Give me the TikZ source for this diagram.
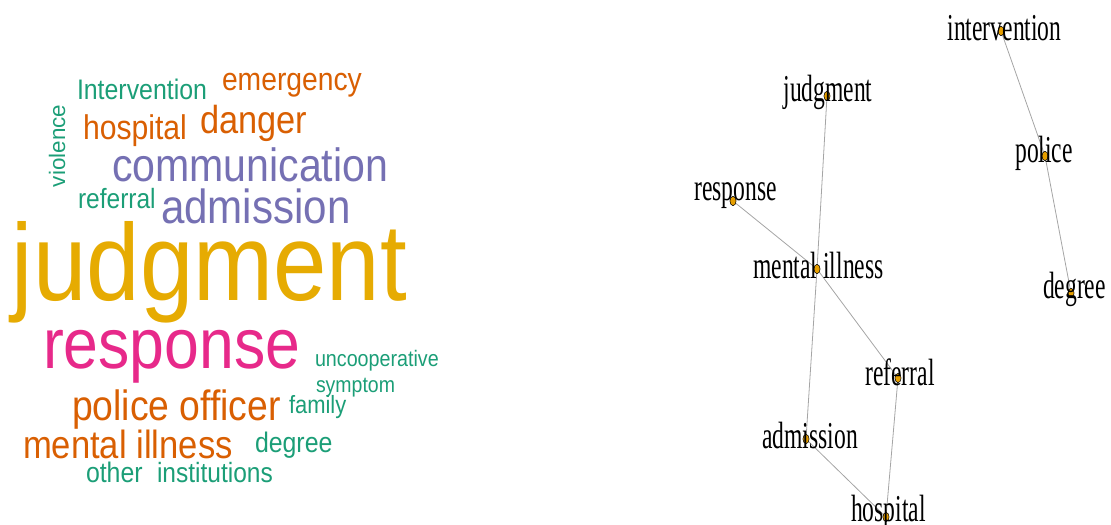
\documentclass[tikz,border=0pt]{standalone}
\usepackage{fontspec}
\usepackage{tikz}
\usetikzlibrary{shapes}

\newfontfamily\cloudfont[FakeStretch=0.88]{Liberation Sans}
\newfontfamily\cloudfontup{Liberation Sans}
\newfontfamily\netfont[FakeStretch=0.62]{Liberation Serif}
\newcommand\fsz[1]{\fontsize{#1}{#1}\selectfont}

\definecolor{dkgreen}{RGB}{27,158,119}
\definecolor{dkorange}{RGB}{217,95,2}
\definecolor{dkpurple}{RGB}{117,112,179}
\definecolor{dkpink}{RGB}{231,41,138}
\definecolor{dkyellow}{RGB}{230,171,2}
\definecolor{vtxfill}{RGB}{230,159,0}
\definecolor{edgegray}{RGB}{165,165,165}

\tikzset{
  cloudword/.style={anchor=base west, inner sep=0pt, outer sep=0pt},
  vertex/.style={ellipse, draw=black, line width=0.4pt, fill=vtxfill, inner sep=0pt, minimum width=4.6pt, minimum height=7pt},
  netlabel/.style={anchor=base, inner sep=0pt, text=black, font=\netfont\fsz{28.5}},
  edge/.style={draw=edgegray, line width=0.6pt}
}

\begin{document}
\begin{tikzpicture}[x=0.75pt,y=0.75pt,yscale=-1,xscale=1]
    %set diagram to 1111 x 525
    \useasboundingbox (0,0) rectangle (1111,525);

    % Word cloud
    \node [cloudword, text=dkyellow, font=\cloudfont\fsz{81.8}] (wJudgment) at (12,300) {judgment};
    \node [cloudword, text=dkpink, font=\cloudfont\fsz{53.3}] (wResponse) at (43,368) {response};
    \node [cloudword, text=dkpurple, font=\cloudfont\fsz{35}] (wCommunication) at (112,181) {communication};
    \node [cloudword, text=dkpurple, font=\cloudfont\fsz{35.9}] (wAdmission) at (161,223) {admission};
    \node [cloudword, text=dkorange, font=\cloudfont\fsz{29.3}] (wDanger) at (200,133) {danger};
    \node [cloudword, text=dkorange, font=\cloudfont\fsz{25.7}] (wHospital) at (83,139) {hospital};
    \node [cloudword, text=dkorange, font=\cloudfont\fsz{24.1}] (wEmergency) at (222,90) {emergency};
    \node [cloudword, text=dkorange, font=\cloudfont\fsz{31.8}] (wPolice) at (72,420) {police officer};
    \node [cloudword, text=dkorange, font=\cloudfont\fsz{29.5}] (wMental) at (23,458) {mental illness};
    \node [cloudword, text=dkgreen, font=\cloudfont\fsz{21.2}] (wIntervention) at (77,99) {Intervention};
    \node [cloudword, text=dkgreen, font=\cloudfont\fsz{20.9}] (wReferral) at (78,208) {referral};
    \node [cloudword, text=dkgreen, font=\cloudfontup\fsz{16.8}, rotate=90] (wViolence) at (65,187) {violence};
    \node [cloudword, text=dkgreen, font=\cloudfont\fsz{16.8}] (wUncoop) at (315,366) {uncooperative};
    \node [cloudword, text=dkgreen, font=\cloudfont\fsz{16.6}] (wSymptom) at (316,392) {symptom};
    \node [cloudword, text=dkgreen, font=\cloudfont\fsz{18.7}] (wFamily) at (289,413) {family};
    \node [cloudword, text=dkgreen, font=\cloudfont\fsz{21.2}] (wDegree) at (255,452) {degree};
    \node [cloudword, text=dkgreen, font=\cloudfont\fsz{21.2}] (wOther) at (86,482) {other};
    \node [cloudword, text=dkgreen, font=\cloudfont\fsz{20.9}] (wInstitutions) at (157,482) {institutions};

    % Network vertices
    \coordinate (vInterv) at (1001,31);
    \coordinate (vJudg) at (827,96);
    \coordinate (vPolice) at (1045,156);
    \coordinate (vResp) at (733,201);
    \coordinate (vMental) at (817,269);
    \coordinate (vDegree) at (1071,293);
    \coordinate (vReferral) at (898,378);
    \coordinate (vAdmis) at (806,439);
    \coordinate (vHosp) at (886,517);

    % Edges
    \draw [edge] (vInterv) -- (vPolice);
    \draw [edge] (vPolice) -- (vDegree);
    \draw [edge] (vJudg) -- (vMental);
    \draw [edge] (vResp) -- (vMental);
    \draw [edge] (vMental) -- (vReferral);
    \draw [edge] (vMental) -- (vAdmis);
    \draw [edge] (vAdmis) -- (vHosp);
    \draw [edge] (vReferral) -- (vHosp);

    % Vertex dots
    \foreach \v in {vInterv,vJudg,vPolice,vResp,vMental,vDegree,vReferral,vAdmis,vHosp}
        \node [vertex] (dot-\v) at (\v) {};

    % Vertex labels
    \node [netlabel] (lInterv) at (1004.5,40.5) {intervention};
    \node [netlabel] (lJudg) at (828,101) {judgment};
    \node [netlabel] (lPolice) at (1044,162.5) {police};
    \node [netlabel] (lResp) at (735.5,200.5) {response};
    \node [netlabel] (lMental) at (818.5,278) {mental illness};
    \node [netlabel] (lDegree) at (1074.5,298.5) {degree};
    \node [netlabel] (lReferral) at (900,385.5) {referral};
    \node [netlabel] (lAdmis) at (810,448.5) {admission};
    \node [netlabel] (lHosp) at (888.5,521.5) {hospital};

\end{tikzpicture}
\end{document}
